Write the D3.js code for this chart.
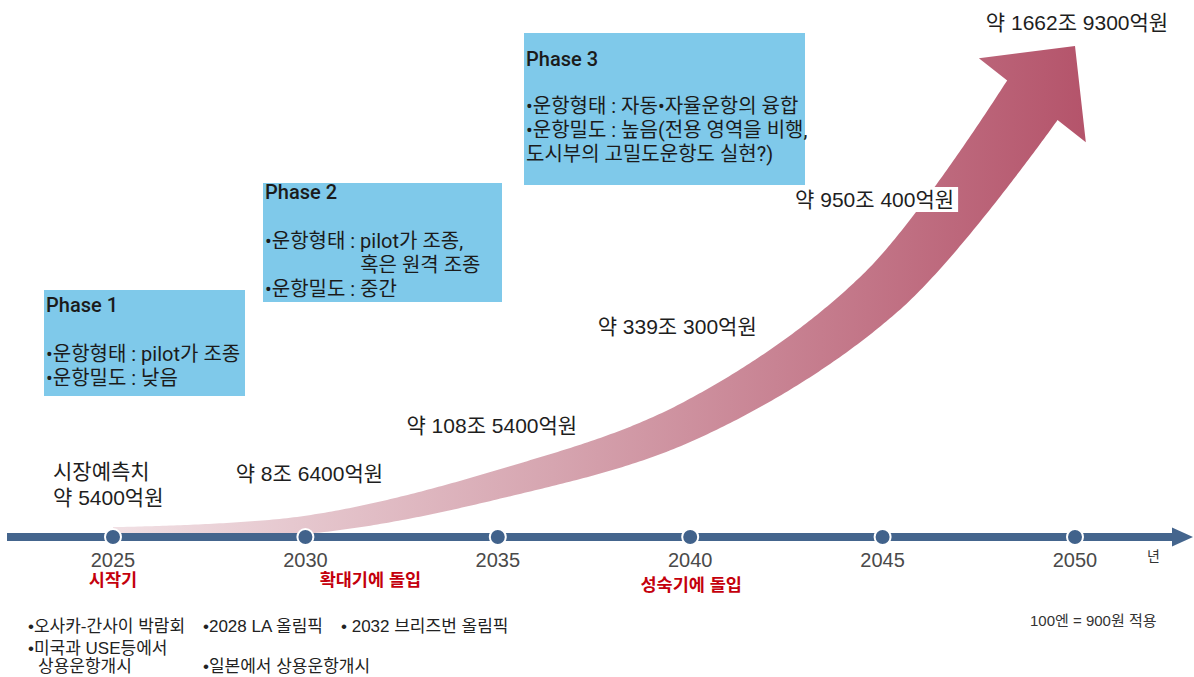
<!DOCTYPE html>
<html>
<head>
<meta charset="utf-8">
<script src="https://cdn.jsdelivr.net/npm/d3@7"></script>
<style>
  html, body { margin: 0; padding: 0; background: #fff; }
  svg { display: block; }
</style>
</head>
<body>
<svg id="chart" width="1194" height="677"></svg>
<script>
// ---------------- DATA ----------------
const years = [2025, 2030, 2035, 2040, 2045, 2050];
const yearLabels = ["2025", "2030", "2035", "2040", "2045", "2050"];
// market forecast (조원)
const marketValues = [0.54, 8.64, 108.54, 339.03, 950.04, 1662.93];
const valueLabels = [
  ["시장예측치", "약 5400억원"],
  ["약 8조 6400억원"],
  ["약 108조 5400억원"],
  ["약 339조 300억원"],
  ["약 950조 400억원"],
  ["약 1662조 9300억원"]
];
const stageYears = [2025, 2030, 2040];
const stageLabels = ["시작기", "확대기에 돌입", "성숙기에 돌입"];
const phaseTitles = ["Phase 1", "Phase 2", "Phase 3"];
const phaseLines = [
  ["•운항형태 : pilot가 조종", "•운항밀도 : 낮음"],
  ["•운항형태 : pilot가 조종,", "혹은 원격 조종", "•운항밀도 : 중간"],
  ["•운항형태 : 자동•자율운항의 융합", "•운항밀도 : 높음(전용 영역을 비행,", "도시부의 고밀도운항도 실현?)"]
];
const eventNotes = [
  ["•오사카-간사이 박람회", "•미국과 USE등에서", "상용운항개시"],
  ["•2028 LA 올림픽", "•일본에서 상용운항개시"],
  ["• 2032 브리즈번 올림픽"]
];
const unitNote = "100엔 = 900원 적용";
const axisUnit = "년";

// ---------------- LAYOUT ----------------
const axisY = 537;
const topY = 46;
const FONT = "'Liberation Sans', 'Noto Sans CJK KR', sans-serif";
const PFONT = "Roboto, 'Noto Sans CJK KR', sans-serif";

const svg = d3.select("#chart");
const x = d3.scaleLinear().domain([2025, 2050]).range([113, 1075]);
const y = d3.scalePow().exponent(0.75).domain([0, d3.max(marketValues)]).range([532, 165]);

// gradient
const defs = svg.append("defs");
const grad = defs.append("linearGradient").attr("id", "arrowGrad")
  .attr("gradientUnits", "userSpaceOnUse")
  .attr("x1", x(2025)).attr("y1", 0).attr("x2", x(2050) + 15).attr("y2", 0);
grad.append("stop").attr("offset", 0).attr("stop-color", "#f1e0e4");
grad.append("stop").attr("offset", 0.45).attr("stop-color", "#d6a5b0");
grad.append("stop").attr("offset", 1).attr("stop-color", "#b4536a");

// ---------------- PHASE BOXES ----------------
const phaseLayout = [
  { x: 44,  y: 290, w: 201, h: 106, titleY: 312, lineY: 361, cont: [false, false] },
  { x: 263, y: 183, w: 239, h: 119, titleY: 199, lineY: 248, cont: [false, true, false] },
  { x: 524, y: 33,  w: 281, h: 152, titleY: 66,  lineY: 113, cont: [false, false, false] }
];
const lineStep = 23.8;
const pg = svg.append("g");
phaseTitles.forEach((t, i) => {
  const L = phaseLayout[i];
  pg.append("rect").attr("x", L.x).attr("y", L.y).attr("width", L.w).attr("height", L.h)
    .attr("fill", "#7fc9ea");
  pg.append("text").attr("x", L.x + 2).attr("y", L.titleY)
    .attr("font-family", PFONT).attr("font-size", 20).attr("font-weight", 500)
    .attr("fill", "#1b1b1b").text(t);
  let prefixW = 0;
  phaseLines[i].forEach((ln, j) => {
    const tx = pg.append("text").attr("y", L.lineY + j * lineStep)
      .attr("font-family", PFONT).attr("font-size", 20)
      .attr("fill", "#1b1b1b");
    if (j === 0) {
      const pre = ln.slice(0, ln.indexOf(":") + 2);
      const probe = pg.append("text").attr("font-family", PFONT).attr("font-size", 20)
        .style("white-space", "pre").text(pre);
      prefixW = probe.node().getComputedTextLength();
      probe.remove();
    }
    tx.attr("x", L.x + 2 + (L.cont[j] ? prefixW : 0)).text(ln);
  });
});

// ---------------- GROWTH ARROW ----------------
const shaftPts = years.slice(0, 5).map((yr, i) => [x(yr), y(marketValues[i])]);
const tip = [x(years[5]), topY];
const p4 = shaftPts[shaftPts.length - 1];
let ux = tip[0] - p4[0], uy = tip[1] - p4[1];
const ul = Math.hypot(ux, uy); ux /= ul; uy /= ul;
const headLen = 69, headHalf = 68;
const base = [tip[0] - ux * headLen, tip[1] - uy * headLen];
const pts = shaftPts.concat([base]);
const tmp = svg.append("path")
  .attr("d", d3.line().curve(d3.curveCatmullRom.alpha(0.5))(pts))
  .attr("fill", "none");
const node = tmp.node();
const total = node.getTotalLength();
const wScale = d3.scaleLinear().domain([0, total]).range([8, 64]);
const N = 300;
const sideA = [], sideB = [];
for (let i = 0; i <= N; i++) {
  const s = total * i / N;
  const p = node.getPointAtLength(s);
  const pa = node.getPointAtLength(Math.max(0, s - 1.5));
  const pb = node.getPointAtLength(Math.min(total, s + 1.5));
  let tx = pb.x - pa.x, ty = pb.y - pa.y;
  const tl = Math.hypot(tx, ty) || 1; tx /= tl; ty /= tl;
  if (i === N) { tx = ux; ty = uy; }
  const nx = -ty, ny = tx;
  const hw = wScale(s) / 2;
  sideA.push([p.x + nx * hw, p.y + ny * hw]);
  sideB.push([p.x - nx * hw, p.y - ny * hw]);
}
tmp.remove();
const nxu = -uy, nyu = ux;
const poly = sideA
  .concat([[base[0] + nxu * headHalf, base[1] + nyu * headHalf], tip,
           [base[0] - nxu * headHalf, base[1] - nyu * headHalf]])
  .concat(sideB.slice().reverse());
svg.append("path")
  .attr("d", "M" + poly.map(p => p[0].toFixed(2) + "," + p[1].toFixed(2)).join("L") + "Z")
  .attr("fill", "url(#arrowGrad)");

// ---------------- VALUE LABELS ----------------
const labelLayout = [
  { anchor: "start", dx: -60, ys: [479, 505] },
  { anchor: "middle", dx: 4, ys: [481] },
  { anchor: "middle", dx: -6, ys: [433] },
  { anchor: "middle", dx: -13, ys: [334] },
  { anchor: "middle", dx: -8, ys: [207] },
  { anchor: "middle", dx: 2, ys: [30] }
];
const lg = svg.append("g");
valueLabels.forEach((lines, i) => {
  const L = labelLayout[i];
  const g = lg.append("g");
  const bg = g.append("rect").attr("fill", "#fff");
  lines.forEach((t, j) => {
    g.append("text").attr("x", x(years[i]) + L.dx).attr("y", L.ys[j])
      .attr("text-anchor", L.anchor)
      .attr("font-family", FONT).attr("font-size", 21)
      .attr("fill", "#1e1e1e").text(t);
  });
  const bb = g.node().getBBox();
  bg.attr("x", bb.x - 4).attr("y", bb.y - 1).attr("width", bb.width + 8).attr("height", bb.height + 2);
});

// ---------------- TIMELINE ----------------
const tg = svg.append("g");
tg.append("line").attr("x1", 7).attr("x2", 1175).attr("y1", axisY).attr("y2", axisY)
  .attr("stroke", "#44658d").attr("stroke-width", 8);
tg.append("path")
  .attr("d", `M1172,${axisY - 9.5}L1193,${axisY}L1172,${axisY + 9.5}Z`)
  .attr("fill", "#44658d");
tg.selectAll("circle").data(years).join("circle")
  .attr("cx", d => x(d)).attr("cy", axisY).attr("r", 8)
  .attr("fill", "#41628b").attr("stroke", "#fff").attr("stroke-width", 2);
tg.selectAll("text.year").data(yearLabels).join("text").attr("class", "year")
  .attr("x", (d, i) => x(years[i])).attr("y", 567)
  .attr("text-anchor", "middle").attr("font-family", FONT).attr("font-size", 20)
  .attr("fill", "#4a4a4a").text(d => d);
tg.append("text").attr("x", 1147).attr("y", 561)
  .attr("font-family", FONT).attr("font-size", 14).attr("fill", "#333").text(axisUnit);

// stage labels
const stageLayout = [{ dx: 0, y: 586 }, { dx: 65, y: 586 }, { dx: 1, y: 591 }];
tg.selectAll("text.stage").data(stageLabels).join("text").attr("class", "stage")
  .attr("x", (d, i) => x(stageYears[i]) + stageLayout[i].dx).attr("y", (d, i) => stageLayout[i].y)
  .attr("text-anchor", "middle").attr("font-family", FONT).attr("font-size", 17.5)
  .attr("font-weight", 700).attr("fill", "#c4000c").text(d => d);

// ---------------- NOTES ----------------
const noteLayout = [
  [{ x: 28, y: 632 }, { x: 28, y: 654 }, { x: 38, y: 672 }],
  [{ x: 203, y: 632 }, { x: 203, y: 672 }],
  [{ x: 341, y: 632 }]
];
const ng = svg.append("g");
eventNotes.forEach((col, i) => col.forEach((t, j) => {
  ng.append("text").attr("x", noteLayout[i][j].x).attr("y", noteLayout[i][j].y)
    .attr("font-family", FONT).attr("font-size", 17).attr("fill", "#222").text(t);
}));
ng.append("text").attr("x", 1030).attr("y", 626)
  .attr("font-family", FONT).attr("font-size", 15).attr("fill", "#333").text(unitNote);
</script>
</body>
</html>
